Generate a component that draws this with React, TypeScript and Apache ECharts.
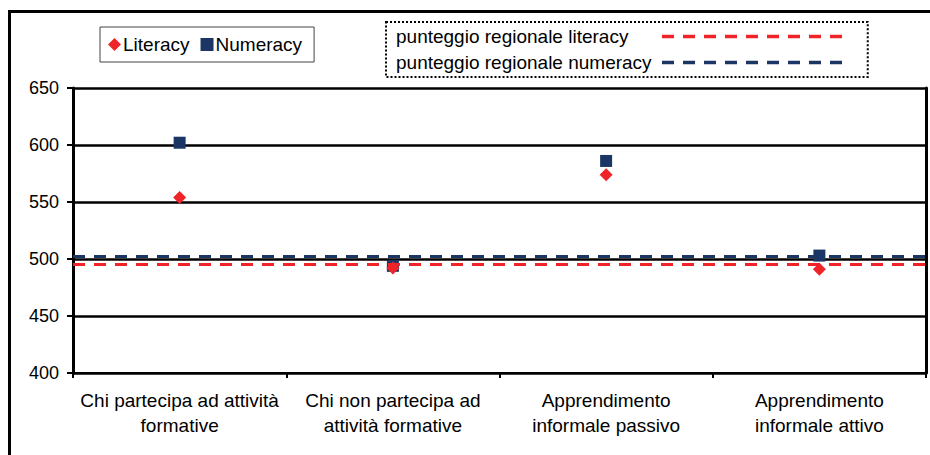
import React, { useEffect, useRef } from "react";
import * as echarts from "echarts";

const categories = [
  "Chi partecipa ad attività\nformative",
  "Chi non partecipa ad\nattività formative",
  "Apprendimento\ninformale passivo",
  "Apprendimento\ninformale attivo",
];
const literacy = [554, 492, 574, 491];
const numeracy = [602, 494, 586, 503];
const regionalLiteracy = 495;
const regionalNumeracy = 502;
const yTicks = { min: 400, max: 650, interval: 50 };

const RED = "#ee2428";
const NAVY = "#1b3565";
const FONT = "'Liberation Sans', Arial, sans-serif";
const DASH = [12, 9];

export default function App() {
  const ref = useRef<HTMLDivElement>(null);

  useEffect(() => {
    document.body.style.margin = "0";
    const chart = echarts.init(ref.current!, null, { renderer: "svg" });
    chart.setOption({
      animation: false,
      textStyle: { fontFamily: FONT, color: "#000" },
      graphic: [
        {
          type: "rect",
          shape: { x: 9.5, y: 11.5, width: 940, height: 460 },
          style: { fill: "none", stroke: "#000", lineWidth: 3 },
          silent: true,
        },
      ],
      legend: [
        {
          data: ["Literacy", "Numeracy"],
          left: 100,
          top: 27,
          orient: "horizontal",
          padding: [8, 12, 8, 8],
          itemGap: 11,
          itemWidth: 13,
          itemHeight: 13,
          borderColor: "#444",
          borderWidth: 1,
          textStyle: { fontFamily: FONT, fontSize: 19, color: "#000", padding: [0, 0, 0, -3] },
        },
        {
          data: ["punteggio regionale literacy", "punteggio regionale numeracy"],
          left: 386,
          top: 22,
          orient: "vertical",
          align: "right",
          padding: [5, 24, 5, 10],
          itemGap: 7,
          itemWidth: 180,
          itemHeight: 18,
          borderColor: "#000",
          borderWidth: 2,
          borderType: "dotted",
          itemStyle: { color: "rgba(0,0,0,0)", borderWidth: 0 },
          lineStyle: { width: 3.5, type: DASH },
          formatter: (name: string) => `{t|${name}}`,
          textStyle: {
            fontFamily: FONT,
            fontSize: 19,
            color: "#000",
            rich: {
              t: { fontFamily: FONT, fontSize: 19, color: "#000", width: 261, align: "left" },
            },
          },
        },
      ],
      grid: { left: 73, right: 4, top: 88, bottom: 82 },
      xAxis: {
        type: "category",
        data: categories,
        boundaryGap: true,
        axisLine: { lineStyle: { color: "#000", width: 2 } },
        axisTick: { show: true, length: 5, lineStyle: { color: "#000", width: 2 } },
        axisLabel: {
          fontFamily: FONT,
          fontSize: 19,
          color: "#000",
          lineHeight: 25,
          margin: 15,
          interval: 0,
        },
      },
      yAxis: [
        {
          type: "value",
          min: yTicks.min,
          max: yTicks.max,
          interval: yTicks.interval,
          axisLine: { show: true, lineStyle: { color: "#000", width: 3 } },
          axisTick: { show: true, length: 6, lineStyle: { color: "#000", width: 2 } },
          axisLabel: { fontFamily: FONT, fontSize: 18, color: "#000", margin: 14 },
          splitLine: { show: true, lineStyle: { color: "#000", width: 2.5 } },
        },
        {
          type: "value",
          position: "right",
          min: yTicks.min,
          max: yTicks.max,
          interval: yTicks.interval,
          axisLine: { show: true, lineStyle: { color: "#000", width: 3 } },
          axisTick: { show: false },
          axisLabel: { show: false },
          splitLine: { show: false },
        },
      ],
      series: [
        {
          name: "punteggio regionale literacy",
          type: "line",
          data: [],
          symbol: "none",
          itemStyle: { color: RED },
          lineStyle: { color: RED, width: 3, type: DASH },
          markLine: {
            silent: true,
            symbol: "none",
            label: { show: false },
            lineStyle: { color: RED, width: 3, type: DASH },
            data: [{ yAxis: regionalLiteracy }],
          },
          z: 3,
        },
        {
          name: "punteggio regionale numeracy",
          type: "line",
          data: [],
          symbol: "none",
          itemStyle: { color: NAVY },
          lineStyle: { color: NAVY, width: 3, type: DASH },
          markLine: {
            silent: true,
            symbol: "none",
            label: { show: false },
            lineStyle: { color: NAVY, width: 3, type: DASH },
            data: [{ yAxis: regionalNumeracy }],
          },
          z: 3,
        },
        {
          name: "Literacy",
          type: "scatter",
          data: literacy,
          symbol: "diamond",
          symbolSize: 13,
          itemStyle: { color: RED, opacity: 1 },
          z: 5,
        },
        {
          name: "Numeracy",
          type: "scatter",
          data: numeracy,
          symbol: "rect",
          symbolSize: 12,
          itemStyle: { color: NAVY, opacity: 1 },
          z: 4,
        },
      ],
    });
    return () => chart.dispose();
  }, []);

  return <div ref={ref} style={{ width: 930, height: 455 }} />;
}
